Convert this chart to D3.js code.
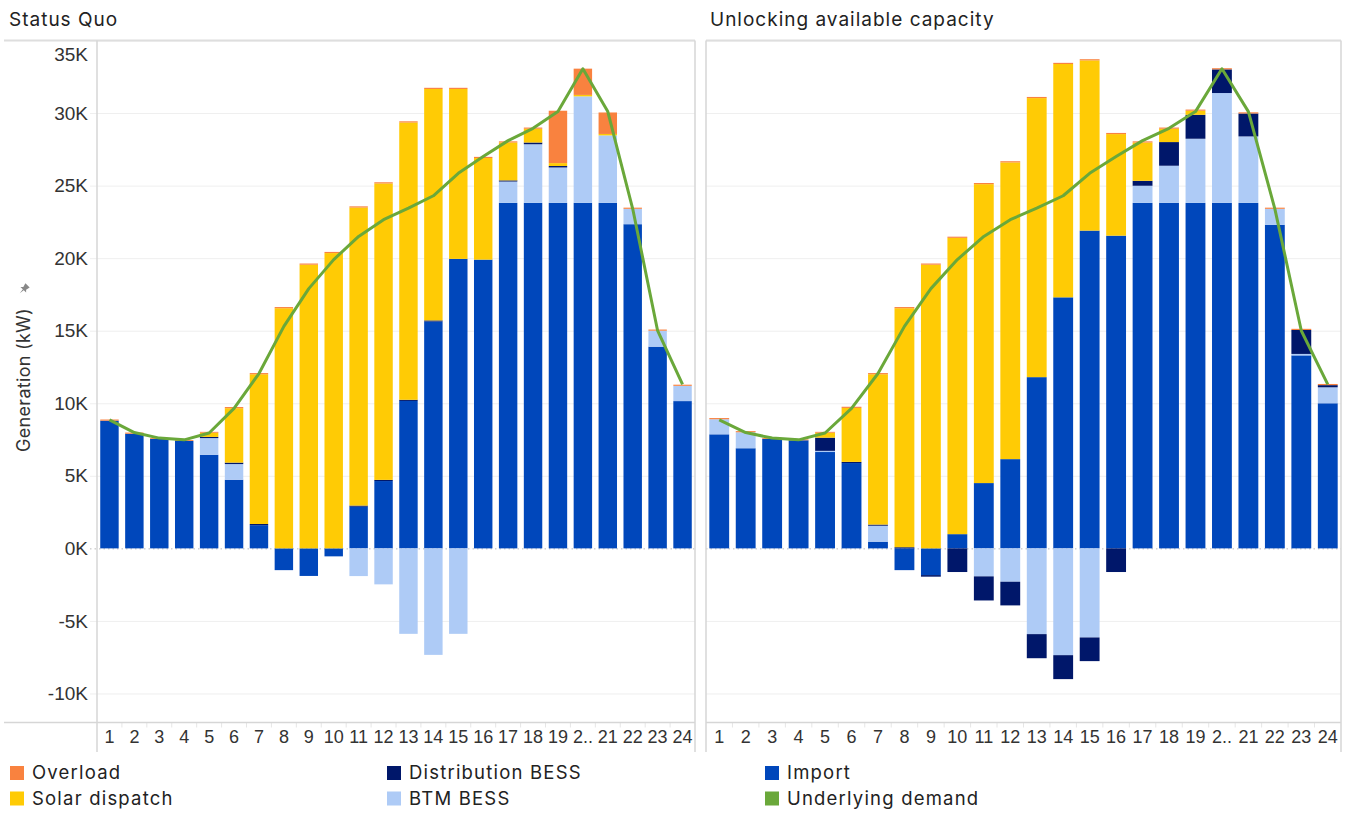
<!DOCTYPE html>
<html lang="en">
<head>
<meta charset="UTF-8">
<title>Generation by hour</title>
<script src="https://cdn.jsdelivr.net/npm/d3@7"></script>
<style>
    body {
        margin: 0;
        background: #fff;
        font-family: Inter, "Noto Sans", sans-serif;
    }
    .tick text {
        font-family: "Liberation Sans", Arial, sans-serif;
        fill: #333;
    }
</style>
</head>
<body>
<svg id="chart" width="1351" height="814"></svg>
<script>
// hours (tick labels as shown, hour 20 is truncated in the original)
const hours = ["1","2","3","4","5","6","7","8","9","10","11","12","13","14","15","16","17","18","19","2..","21","22","23","24"];

// underlying demand (kW), same in both scenarios
const demand = [8850, 7980, 7600, 7480, 7950, 9650, 12050, 15300, 17900, 19900, 21500, 22650, 23450, 24300, 25850, 27000, 28100, 28950, 30100, 33050, 30100, 23400, 15000, 11300];

// Status Quo
const sqImport   = [8800, 7900, 7550, 7400, 6450, 4730, 1600, -1500, -1900, -550, 2870, 4640, 10160, 15630, 19950, 19900, 23810, 23810, 23810, 23810, 23810, 22340, 13900, 10150];
const sqBtm      = [0, 0, 0, 0, 1150, 1080, 0, 0, 0, 0, -1910, -2480, -5890, -7340, -5890, 0, 1470, 4040, 2440, 7340, 4650, 1060, 1100, 1050];
const sqDist     = [0, 0, 0, 0, 80, 100, 80, 0, 0, 0, 80, 80, 80, 80, 0, 0, 80, 120, 100, 0, 0, 0, 0, 0];
const sqSolar    = [0, 0, 0, 0, 290, 3750, 10320, 16550, 19550, 20350, 20540, 20430, 19110, 15950, 11710, 7000, 2610, 950, 200, 100, 100, 0, 0, 0];
const sqOverload = [80, 80, 60, 60, 60, 80, 80, 80, 80, 80, 80, 80, 80, 80, 80, 80, 80, 80, 3610, 1810, 1480, 80, 80, 80];

// Unlocking available capacity
const uaImport   = [7860, 6900, 7540, 7450, 6640, 5880, 460, -1500, -1840, 980, 4500, 6150, 11800, 17300, 21900, 21550, 23810, 23810, 23810, 23810, 23810, 22300, 13300, 10000];
const uaBtm      = [1040, 1100, 0, 0, 80, 0, 1100, 0, 0, 0, -1930, -2300, -5910, -7360, -6140, 0, 1180, 2560, 4420, 7570, 4580, 1100, 100, 1100];
const uaDist     = [0, 0, 0, 0, 910, 80, 80, 80, -110, -1630, -1660, -1630, -1660, -1650, -1630, -1630, 340, 1630, 1650, 1630, 1580, 0, 1650, 150];
const uaSolar    = [0, 0, 0, 0, 340, 3720, 10360, 16470, 19550, 20420, 20600, 20450, 19230, 16080, 11730, 7000, 2640, 920, 280, 0, 0, 0, 0, 0];
const uaOverload = [80, 80, 60, 60, 60, 80, 80, 80, 80, 80, 80, 80, 80, 80, 80, 80, 80, 80, 80, 80, 80, 80, 80, 80];

const yTicks = [-10000, -5000, 0, 5000, 10000, 15000, 20000, 25000, 30000, 35000];

const keys = ["Import", "BTM BESS", "Distribution BESS", "Solar dispatch", "Overload"];
const colors = {
    "Overload": "#F9823F",
    "Solar dispatch": "#FFCB05",
    "Distribution BESS": "#00176A",
    "BTM BESS": "#AECBF6",
    "Import": "#0047BB",
    "Underlying demand": "#6AA83A"
};

const svg = d3.select("#chart");
const plotTop = 40.5, plotBottom = 722.5, frameBottom = 752;

const y = d3.scaleLinear().domain([-12000, 35000]).range([plotBottom, plotTop]);

function buildRows(imp, btm, dist, solar, over) {
    return hours.map((h, i) => ({
        hour: h,
        "Import": imp[i],
        "BTM BESS": btm[i],
        "Distribution BESS": dist[i],
        "Solar dispatch": solar[i],
        "Overload": over[i],
        demand: demand[i]
    }));
}

function drawPanel(opts) {
    const g = svg.append("g");
    const x = d3.scaleBand()
        .domain(hours)
        .range([opts.x0, opts.x1])
        .paddingInner(opts.pad)
        .paddingOuter(opts.pad / 2);

    // title
    g.append("text")
        .attr("x", opts.titleX)
        .attr("y", 25.5)
        .style("font-size", "19px")
        .style("letter-spacing", "1px")
        .style("fill", "#222")
        .text(opts.title);

    // grid + y axis
    const yAxis = g.append("g")
        .attr("transform", `translate(${opts.x0},0)`)
        .call(d3.axisLeft(y)
            .tickValues(yTicks)
            .tickSizeInner(-(opts.x1 - opts.x0))
            .tickSizeOuter(0)
            .tickPadding(9)
            .tickFormat(d => opts.labels ? (d / 1000) + "K" : ""));
    yAxis.select(".domain").remove();
    yAxis.selectAll(".tick line")
        .attr("x1", opts.labels ? -7 : 0)
        .attr("stroke", d => d === 0 ? "#bbb" : "#efefef")
        .attr("stroke-dasharray", d => d === 0 ? "1.5,3" : null);
    yAxis.selectAll(".tick text")
        .style("font-size", "19px")
        .attr("dy", d => d === 35000 ? "1.05em" : "0.32em");

    // stacked bars
    const rows = buildRows(...opts.series);
    const stacked = d3.stack().keys(keys).offset(d3.stackOffsetDiverging)(rows);

    g.append("g")
        .selectAll("g")
        .data(stacked)
        .join("g")
        .attr("fill", s => colors[s.key])
        .selectAll("rect")
        .data(s => s.filter(d => d[1] !== d[0]))
        .join("rect")
        .attr("x", d => x(d.data.hour))
        .attr("width", x.bandwidth())
        .attr("y", d => y(d[1]))
        .attr("height", d => y(d[0]) - y(d[1]));

    // underlying demand line
    const line = d3.line()
        .x(d => x(d.hour) + x.bandwidth() / 2)
        .y(d => y(d.demand));
    g.append("path")
        .datum(rows)
        .attr("fill", "none")
        .attr("stroke", colors["Underlying demand"])
        .attr("stroke-width", 3)
        .attr("stroke-linejoin", "round")
        .attr("d", line);

    // x axis labels
    const xAxis = g.append("g")
        .attr("transform", `translate(0,${plotBottom})`)
        .call(d3.axisBottom(x).tickSize(0).tickPadding(8));
    xAxis.select(".domain").remove();
    xAxis.selectAll(".tick text").style("font-size", "18px");

    // little separators between hour labels
    const step = x.step();
    g.append("g")
        .selectAll("line")
        .data(hours.slice(1))
        .join("line")
        .attr("x1", h => x(h) - step * opts.pad / 2)
        .attr("x2", h => x(h) - step * opts.pad / 2)
        .attr("y1", plotBottom)
        .attr("y2", plotBottom + 5)
        .attr("stroke", "#e6e6e6");

    // frame
    const frame = g.append("g").attr("stroke", "#d6d6d6").attr("fill", "none");
    frame.append("line").attr("x1", opts.frameLeft).attr("x2", opts.x1).attr("y1", plotTop).attr("y2", plotTop)
        .attr("stroke", "#dedede").attr("stroke-width", 2);
    frame.append("line").attr("x1", opts.frameLeft).attr("x2", opts.x1).attr("y1", plotBottom).attr("y2", plotBottom)
        .attr("stroke-width", 1.5);
    frame.append("line").attr("x1", opts.x0).attr("x2", opts.x0).attr("y1", plotTop).attr("y2", frameBottom)
        .attr("stroke-width", 1.5);
    frame.append("line").attr("x1", opts.x1).attr("x2", opts.x1).attr("y1", plotTop).attr("y2", frameBottom)
        .attr("stroke-width", 1.5);
}

drawPanel({
    title: "Status Quo", titleX: 9,
    x0: 97, x1: 695, frameLeft: 4, pad: 0.26, labels: true,
    series: [sqImport, sqBtm, sqDist, sqSolar, sqOverload]
});

drawPanel({
    title: "Unlocking available capacity", titleX: 710,
    x0: 706, x1: 1341, frameLeft: 706, pad: 0.25, labels: false,
    series: [uaImport, uaBtm, uaDist, uaSolar, uaOverload]
});

// y axis title with small pin
svg.append("text")
    .attr("transform", "translate(30,380) rotate(-90)")
    .attr("text-anchor", "middle")
    .style("font-size", "18px")
    .style("letter-spacing", "0.3px")
    .style("fill", "#333")
    .text("Generation (kW)");
svg.append("path")
    .attr("transform", "translate(24,289) rotate(45)")
    .attr("d", "M-3,-5 L3,-5 L2,-1 L4,1 L-4,1 L-2,-1 Z M-0.6,1 L0.6,1 L0,6 Z")
    .attr("fill", "#888");

// legend
const legendItems = [
    { key: "Overload", x: 10, row: 0 },
    { key: "Solar dispatch", x: 10, row: 1 },
    { key: "Distribution BESS", x: 387, row: 0 },
    { key: "BTM BESS", x: 387, row: 1 },
    { key: "Import", x: 765, row: 0 },
    { key: "Underlying demand", x: 765, row: 1 }
];
const legend = svg.append("g")
    .selectAll("g")
    .data(legendItems)
    .join("g")
    .attr("transform", d => `translate(${d.x},${773 + d.row * 25.5})`);
legend.append("rect")
    .attr("y", -7).attr("width", 14).attr("height", 14)
    .attr("fill", d => colors[d.key]);
legend.append("text")
    .attr("x", 22)
    .attr("dy", "0.35em")
    .style("font-size", "18.5px")
    .style("letter-spacing", "1.2px")
    .style("fill", "#222")
    .text(d => d.key);
</script>
</body>
</html>
